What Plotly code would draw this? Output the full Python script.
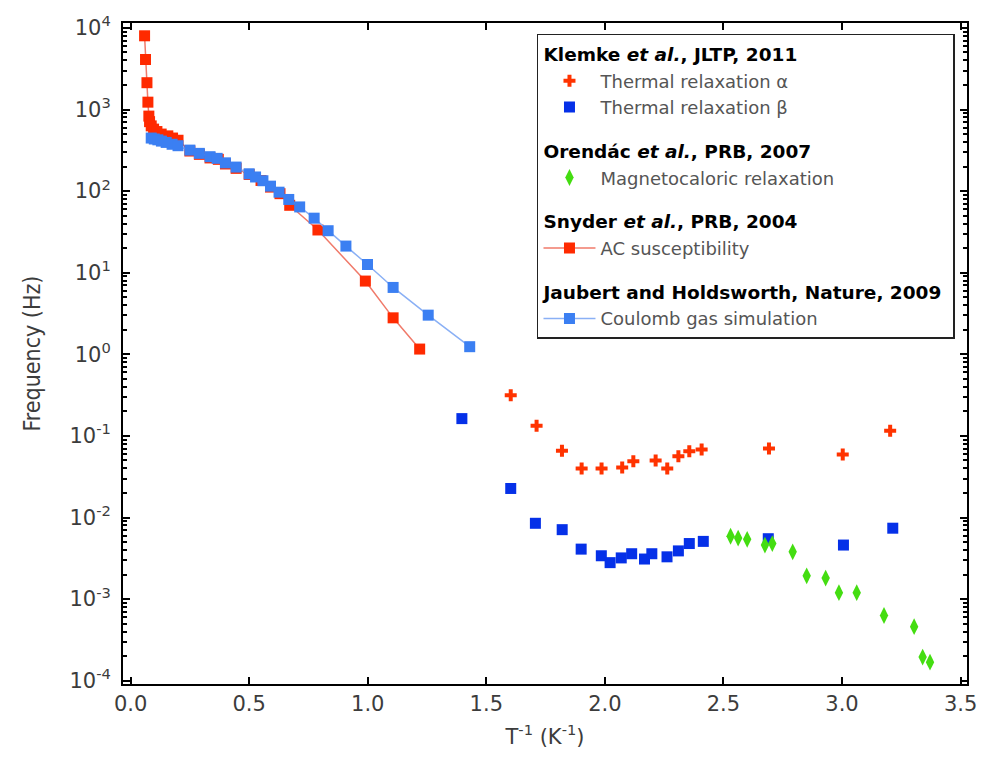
import plotly.graph_objects as go

# ---------------- data ----------------
# Snyder et al., PRB 2004 - AC susceptibility
ac_x = [0.059, 0.063, 0.069, 0.073, 0.077, 0.080, 0.087, 0.097, 0.111, 0.129, 0.157, 0.177,
        0.20, 0.25, 0.29, 0.335, 0.37, 0.40, 0.445, 0.50, 0.55, 0.59, 0.63, 0.671,
        0.790, 0.990, 1.107, 1.219]
ac_y = [8000, 4100, 2130, 1230, 830, 710, 630, 575, 537, 500, 475, 447,
        420, 310, 282, 255, 245, 215, 190, 160, 135, 112, 93, 67,
        33.4, 7.9, 2.8, 1.16]

# Jaubert and Holdsworth, Nature 2009 - Coulomb gas simulation
cg_x = [0.087, 0.10, 0.115, 0.13, 0.15, 0.175, 0.20, 0.25, 0.29, 0.335, 0.365, 0.40,
        0.445, 0.50, 0.527, 0.558, 0.59, 0.626, 0.667, 0.713, 0.774, 0.833, 0.908,
        0.999, 1.107, 1.255, 1.43]
cg_y = [447, 435, 425, 410, 395, 375, 360, 318, 290, 264, 252, 222,
        197, 163, 149, 134, 115, 97, 79, 64, 46.6, 32.7, 21.2,
        12.6, 6.6, 3.02, 1.24]

# Klemke et al., JLTP 2011 - thermal relaxation alpha
ta_x = [1.603, 1.712, 1.819, 1.902, 1.986, 2.073, 2.12, 2.214, 2.263, 2.31, 2.356, 2.408,
        2.692, 3.003, 3.203]
ta_y = [0.316, 0.133, 0.066, 0.040, 0.040, 0.041, 0.049, 0.050, 0.040, 0.0565, 0.065, 0.068,
        0.070, 0.059, 0.116]

# Klemke et al., JLTP 2011 - thermal relaxation beta
tb_x = [1.397, 1.603, 1.707, 1.82, 1.90, 1.985, 2.022, 2.069, 2.113, 2.167, 2.198, 2.262,
        2.31, 2.356, 2.415, 2.689, 3.006, 3.214]
tb_y = [0.163, 0.0227, 0.0085, 0.0071, 0.0041, 0.0034, 0.0028, 0.0032, 0.0036, 0.0031, 0.0036,
        0.0033, 0.0039, 0.0048, 0.0051, 0.0055, 0.0046, 0.0074]

# Orendac et al., PRB 2007 - magnetocaloric relaxation
mc_x = [2.530, 2.562, 2.60, 2.675, 2.706, 2.792, 2.851, 2.931, 2.987, 3.062, 3.177, 3.304,
        3.34, 3.371]
mc_y = [0.0059, 0.0056, 0.0054, 0.0046, 0.0048, 0.0038, 0.00193, 0.00181, 0.0012, 0.0012,
        0.00063, 0.00046, 0.000195, 0.000169]

x_ticks = [0.0, 0.5, 1.0, 1.5, 2.0, 2.5, 3.0, 3.5]
y_exponents = [-4, -3, -2, -1, 0, 1, 2, 3, 4]

# ---------------- figure ----------------
FONT = "DejaVu Sans"
NARROW = "Liberation Sans Narrow, DejaVu Sans Condensed, sans-serif"
TXT = "#3c3c3c"
fig = go.Figure()

fig.add_trace(go.Scatter(
    x=ta_x, y=ta_y, mode="markers", name="Thermal relaxation \u03b1",
    legendgroup="klemke",
    legendgrouptitle_text="<b>Klemke <i>et al.</i>, JLTP, 2011</b>",
    marker=dict(symbol="cross", size=10, color="#ff3300", line=dict(width=0))))
fig.add_trace(go.Scatter(
    x=tb_x, y=tb_y, mode="markers", name="Thermal relaxation \u03b2",
    legendgroup="klemke",
    marker=dict(symbol="square", size=11, color="#0530e8", line=dict(width=0))))
fig.add_trace(go.Scatter(
    x=mc_x, y=mc_y, mode="markers", name="Magnetocaloric relaxation",
    legendgroup="orendac",
    legendgrouptitle_text="<b>Orend\u00e1c <i>et al.</i>, PRB, 2007</b>",
    marker=dict(symbol="diamond-tall", size=12, color="#44dd11", line=dict(width=0))))
fig.add_trace(go.Scatter(
    x=ac_x, y=ac_y, mode="lines+markers", name="AC susceptibility",
    legendgroup="snyder",
    legendgrouptitle_text="<b>Snyder <i>et al.</i>, PRB, 2004</b>",
    line=dict(color="#f07a6a", width=1.5),
    marker=dict(symbol="square", size=11, color="#ff2a00", line=dict(width=0))))
fig.add_trace(go.Scatter(
    x=cg_x, y=cg_y, mode="lines+markers", name="Coulomb gas simulation",
    legendgroup="jaubert",
    legendgrouptitle_text="<b>Jaubert and Holdsworth, Nature, 2009</b>",
    line=dict(color="#8ab0f5", width=1.5),
    marker=dict(symbol="square", size=11, color="#3b7ff2", line=dict(width=0))))

fig.update_layout(
    width=989, height=757,
    margin=dict(l=123, r=22, t=22, b=67),
    paper_bgcolor="white", plot_bgcolor="white",
    font=dict(family=FONT, color=TXT),
    showlegend=True,
    legend=dict(
        x=0.4905, y=0.9835, xanchor="left", yanchor="top",
        bgcolor="white", bordercolor="#222222", borderwidth=1.5,
        font=dict(family=FONT, size=18, color="#555555"),
        grouptitlefont=dict(family=FONT, size=18.5, color="black"),
        traceorder="grouped", tracegroupgap=17, itemwidth=52,
    ),
    xaxis=dict(
        range=[-0.032, 3.527], tickvals=x_ticks,
        ticktext=[f"{v:.1f}" for v in x_ticks],
        ticks="inside", ticklen=7, tickwidth=1.5, tickcolor="black",
        showline=True, linewidth=2, linecolor="black", mirror="allticks",
        showgrid=False, zeroline=False,
        tickfont=dict(family=FONT, size=21, color=TXT),
        title=dict(text="T<sup>-1</sup> (K<sup>-1</sup>)", standoff=14,
                   font=dict(family=FONT, size=21, color=TXT)),
    ),
    yaxis=dict(
        type="log", range=[-4.04, 4.06],
        tickvals=[10.0 ** e for e in y_exponents],
        ticktext=[f"10<sup>{e}</sup>" for e in y_exponents],
        ticks="inside", ticklen=7, tickwidth=1.5, tickcolor="black",
        ticklabelstandoff=6,
        minor=dict(ticks="inside", ticklen=4, tickcolor="black", dtick="D1", showgrid=False),
        showline=True, linewidth=2, linecolor="black", mirror="allticks",
        showgrid=False, zeroline=False,
        tickfont=dict(family=FONT, size=21, color=TXT),
        title=dict(text="Frequency (Hz)", standoff=22,
                   font=dict(family=NARROW, size=23, color=TXT)),
    ),
)

fig.write_html("out.html")
